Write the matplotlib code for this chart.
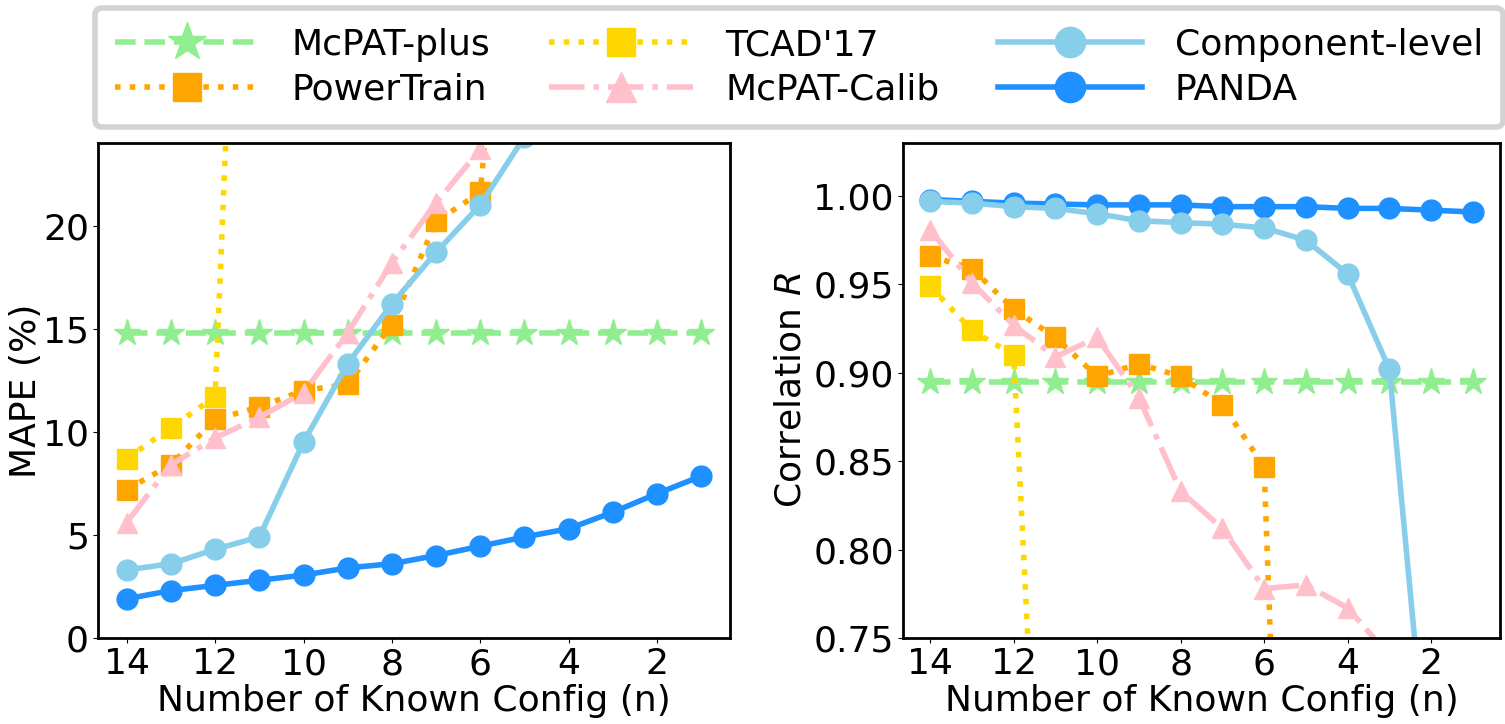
import matplotlib

matplotlib.use("Agg")
import matplotlib.pyplot as plt
import numpy as np

nan = np.nan
n_known = [14, 13, 12, 11, 10, 9, 8, 7, 6, 5, 4, 3, 2, 1]

# MAPE (%) per method, left panel
mape_mcpat_plus = [14.8] * 14
mape_tcad17 = [8.7, 10.2, 11.7, 63.0, nan, nan, nan, nan, nan, nan, nan, nan, nan, nan]
mape_powertrain = [7.2, 8.4, 10.6, 11.2, 12.0, 12.3, 15.2, 20.2, 21.6, 45.0, nan, nan, nan, nan]
mape_mcpat_calib = [5.6, 8.4, 9.7, 10.7, 11.9, 14.8, 18.2, 21.1, 23.7, nan, nan, nan, nan, nan]
mape_component = [3.3, 3.6, 4.3, 4.9, 9.5, 13.3, 16.2, 18.7, 21.0, 24.3, nan, nan, nan, nan]
mape_panda = [1.9, 2.3, 2.55, 2.8, 3.05, 3.4, 3.6, 4.0, 4.45, 4.9, 5.3, 6.1, 7.0, 7.85]

# Correlation R per method, right panel
r_mcpat_plus = [0.895] * 14
r_tcad17 = [0.949, 0.924, 0.910, 0.44, nan, nan, nan, nan, nan, nan, nan, nan, nan, nan]
r_powertrain = [0.966, 0.959, 0.936, 0.920, 0.898, 0.905, 0.898, 0.882, 0.847, 0.2, nan, nan, nan, nan]
r_mcpat_calib = [0.981, 0.951, 0.927, 0.909, 0.920, 0.886, 0.833, 0.812, 0.778, 0.780, 0.767, 0.74, nan, nan]
r_component = [0.997, 0.996, 0.994, 0.993, 0.990, 0.986, 0.985, 0.984, 0.982, 0.975, 0.956, 0.902, 0.65, nan]
r_panda = [0.998, 0.997, 0.996, 0.9955, 0.995, 0.995, 0.995, 0.994, 0.994, 0.994, 0.993, 0.993, 0.992, 0.991]

plt.rcParams["font.family"] = ["DejaVu Sans"]
plt.rcParams["font.size"] = 26

styles = {
    "McPAT-plus": dict(color="#90EE90", ls="--", marker="*", ms=20),
    "TCAD'17": dict(color="#FFD700", ls=":", marker="s", ms=14),
    "PowerTrain": dict(color="#FFA500", ls=":", marker="s", ms=14),
    "McPAT-Calib": dict(color="#FFC0CB", ls="-.", marker="^", ms=15),
    "PANDA": dict(color="#1E90FF", ls="-", marker="o", ms=15),
    "Component-level": dict(color="#87CEEB", ls="-", marker="o", ms=15),
}

fig = plt.figure(figsize=(15.05, 7.24), dpi=100)
W, H = 1505, 724
ax1 = fig.add_axes([98 / W, 86 / H, 632 / W, 495 / H])
ax2 = fig.add_axes([903 / W, 86 / H, 597 / W, 495 / H])

series_left = {
    "McPAT-plus": mape_mcpat_plus,
    "TCAD'17": mape_tcad17,
    "PowerTrain": mape_powertrain,
    "McPAT-Calib": mape_mcpat_calib,
    "PANDA": mape_panda,
    "Component-level": mape_component,
}
series_right = {
    "McPAT-plus": r_mcpat_plus,
    "TCAD'17": r_tcad17,
    "PowerTrain": r_powertrain,
    "McPAT-Calib": r_mcpat_calib,
    "PANDA": r_panda,
    "Component-level": r_component,
}

handles = {}
for ax, series in ((ax1, series_left), (ax2, series_right)):
    for name, vals in series.items():
        st = styles[name]
        (line,) = ax.plot(n_known, vals, color=st["color"], linestyle=st["ls"],
                          marker=st["marker"], markersize=st["ms"], linewidth=4,
                          label=name)
        handles[name] = line
    ax.set_xlim(14.65, 0.35)
    ax.set_xticks([14, 12, 10, 8, 6, 4, 2])
    ax.set_xlabel("Number of Known Config (n)", labelpad=2)
    ax.tick_params(pad=3)
    for sp in ax.spines.values():
        sp.set_linewidth(2)

ax1.set_ylim(0, 24)
ax1.set_yticks([0, 5, 10, 15, 20])
ax1.set_ylabel("MAPE (%)", labelpad=0)

ax2.set_ylim(0.75, 1.03)
ax2.set_yticks([0.75, 0.80, 0.85, 0.90, 0.95, 1.00])
ax2.set_yticklabels(["0.75", "0.80", "0.85", "0.90", "0.95", "1.00"])
ax2.set_ylabel("Correlation $R$", labelpad=4)

order = ["McPAT-plus", "PowerTrain", "TCAD'17", "McPAT-Calib", "Component-level", "PANDA"]
leg = fig.legend([handles[k] for k in order], order, ncol=3, loc="center",
                 bbox_to_anchor=(95 / W, 1 - 128 / H, 1408 / W, 121 / H),
                 mode="expand", borderaxespad=0, handlelength=4, handletextpad=0.9,
                 markerscale=1.45, fancybox=True, framealpha=1,
                 borderpad=0.55, labelspacing=0.3)
leg.get_frame().set_edgecolor("#d3d3d3")
leg.get_frame().set_linewidth(4)

fig.savefig("out.png", dpi=100)
